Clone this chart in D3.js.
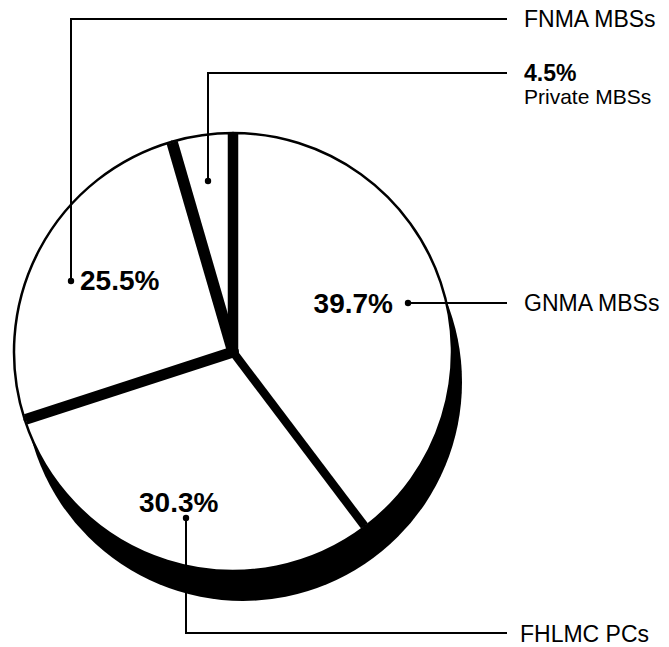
<!DOCTYPE html>
<html>
<head>
<meta charset="utf-8">
<script src="https://cdn.jsdelivr.net/npm/d3@7"></script>
<style>
  html, body { margin: 0; padding: 0; background: #fff; }
  svg { display: block; }
  text { font-family: "Liberation Sans", Arial, Helvetica, sans-serif; fill: #000; }
</style>
</head>
<body>
<svg id="chart" width="669" height="647"></svg>
<script>
// ---- data ----
const categories = ["GNMA MBSs", "FHLMC PCs", "FNMA MBSs", "Private MBSs"];
const values = [39.7, 30.3, 25.5, 4.5];
const percentLabels = ["39.7%", "30.3%", "25.5%", "4.5%"];

// ---- layout ----
const W = 669, H = 647;
const cx = 233, cy = 352, R = 219;
const shadowDx = 10, shadowDy = 30;
const gapWidths = [10.5, 8.5, 11, 11.5]; // separator width at the start of each slice

const svg = d3.select("#chart");

const pie = d3.pie().sort(null).value(d => d.value).startAngle(0).endAngle(2 * Math.PI);
const data = categories.map((c, i) => ({ name: c, value: values[i], label: percentLabels[i] }));
const arcs = pie(data);
const arc = d3.arc().innerRadius(0).outerRadius(R);

// shadow (3D side)
svg.append("circle")
  .attr("cx", cx + shadowDx).attr("cy", cy + shadowDy).attr("r", R)
  .attr("fill", "#000");

const g = svg.append("g").attr("transform", `translate(${cx},${cy})`);

// slices
g.selectAll("path.slice").data(arcs).enter().append("path")
  .attr("class", "slice")
  .attr("d", arc)
  .attr("fill", "#fff")
  .attr("stroke", "#000")
  .attr("stroke-width", 2.5)
  .attr("stroke-linejoin", "round");

// separators (constant-width black bands)
const polar = (a, r) => [r * Math.sin(a), -r * Math.cos(a)];
g.selectAll("line.sep").data(arcs).enter().append("line")
  .attr("class", "sep")
  .attr("x1", 0).attr("y1", 0)
  .attr("x2", d => polar(d.startAngle, R - 1)[0])
  .attr("y2", d => polar(d.startAngle, R - 1)[1])
  .attr("stroke", "#000")
  .attr("stroke-width", (d, i) => gapWidths[i]);
g.append("circle").attr("r", 6).attr("fill", "#000");

// ---- annotations (leader lines + labels) ----
const lineEndX = 507;
const textX = 524;
const leaders = {
  "GNMA MBSs":   { dot: [408, 303], path: [[408, 303], [lineEndX, 303]] },
  "FHLMC PCs":   { dot: [186, 518], path: [[186, 518], [186, 633], [lineEndX, 633]] },
  "FNMA MBSs":   { dot: [71, 281],  path: [[71, 281], [71, 19], [lineEndX, 19]] },
  "Private MBSs":{ dot: [208, 181], path: [[208, 181], [208, 73], [lineEndX, 73]] }
};
const line = d3.line();
data.forEach(d => {
  const L = leaders[d.name];
  svg.append("path").attr("d", line(L.path))
    .attr("fill", "none").attr("stroke", "#000").attr("stroke-width", 2);
  svg.append("circle").attr("cx", L.dot[0]).attr("cy", L.dot[1]).attr("r", 3.2).attr("fill", "#000");
});

// category labels at right
const catFont = 23;
svg.append("text").attr("x", textX).attr("y", 27).attr("font-size", catFont).text(categories[2]);
svg.append("text").attr("x", textX).attr("y", 311).attr("font-size", catFont).text(categories[0]);
svg.append("text").attr("x", textX - 4).attr("y", 642).attr("font-size", catFont).text(categories[1]);
svg.append("text").attr("x", textX).attr("y", 81).attr("font-size", 23).attr("font-weight", "bold").text(percentLabels[3]);
svg.append("text").attr("x", textX).attr("y", 104).attr("font-size", 21).text(categories[3]);

// percent labels on slices
const pctFont = 28;
svg.append("text").attr("x", 393).attr("y", 313).attr("text-anchor", "end")
  .attr("font-size", pctFont).attr("font-weight", "bold").text(percentLabels[0]);
svg.append("text").attr("x", 80).attr("y", 290)
  .attr("font-size", pctFont).attr("font-weight", "bold").text(percentLabels[2]);
svg.append("text").attr("x", 139).attr("y", 512)
  .attr("font-size", pctFont).attr("font-weight", "bold").text(percentLabels[1]);
</script>
</body>
</html>
